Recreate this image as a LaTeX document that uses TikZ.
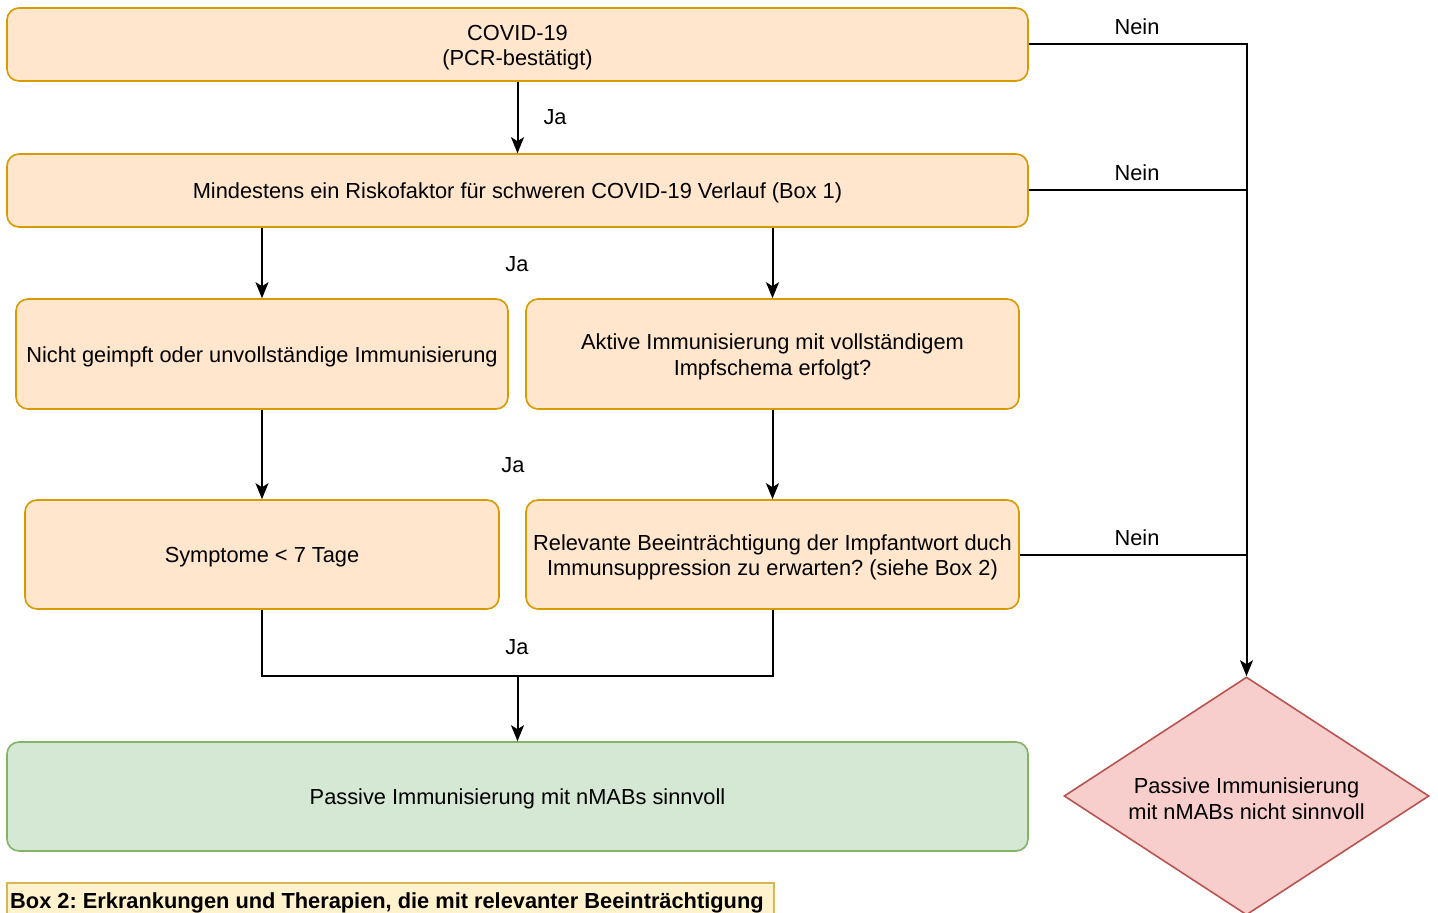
\documentclass[tikz,border=0pt]{standalone}
\usepackage{fontspec}
\setmainfont{Liberation Sans}
\usetikzlibrary{shapes.geometric,arrows.meta}
\frenchspacing
\definecolor{orfill}{HTML}{FFE6CC}
\definecolor{ordraw}{HTML}{D79B00}
\definecolor{grfill}{HTML}{D5E8D4}
\definecolor{grdraw}{HTML}{82B366}
\definecolor{rdfill}{HTML}{F8CECC}
\definecolor{rddraw}{HTML}{B85450}
\definecolor{ylfill}{HTML}{FFF2CC}
\definecolor{yldraw}{HTML}{D6B656}
\tikzset{
  fnt/.style={font=\fontsize{21.8}{25.5}\selectfont},
  box/.style={draw=ordraw, fill=orfill, line width=1.6pt, rounded corners=12pt, inner sep=0pt},
  gbox/.style={box, draw=grdraw, fill=grfill},
  txt/.style={fnt, align=center, inner sep=0pt},
  lbl/.style={fnt, inner sep=0pt},
  conn/.style={line width=2pt, -{Stealth[length=16pt,width=13pt,inset=4pt]}},
  plain/.style={line width=2pt},
}
\begin{document}
\begin{tikzpicture}[x=1pt,y=-1pt]
\useasboundingbox (0,0) rectangle (1438,913);
\clip (0,0) rectangle (1438,913);
% boxes
\node[box, minimum width=1021, minimum height=73] (covid) at (517.5,44.5) {};
\node[box, minimum width=1021, minimum height=73] (risk) at (517.5,190.5) {};
\node[box, minimum width=492, minimum height=110] (nicht) at (262,354) {};
\node[box, minimum width=493, minimum height=110] (aktiv) at (772.5,354) {};
\node[box, minimum width=474, minimum height=109] (sympt) at (262,554.5) {};
\node[box, minimum width=493, minimum height=109] (relev) at (772.5,554.5) {};
\node[gbox, minimum width=1021, minimum height=109] (pass) at (517.5,796.5) {};
\node[diamond, draw=rddraw, fill=rdfill, line width=1.6pt, minimum width=365, minimum height=238, inner sep=0pt] (nicht2) at (1246.5,796) {};
\node[draw=yldraw, fill=ylfill, line width=1.6pt, minimum width=767, minimum height=50, anchor=north west, inner sep=0pt] (box2) at (6,882) {};
% texts
\node[txt] (covidt) at ([yshift=-3pt]covid.center) {COVID-19\\(PCR-bestätigt)};
\node[txt] (riskt) at ([yshift=-2.5pt]risk.center) {Mindestens ein Riskofaktor für schweren COVID-19 Verlauf (Box 1)};
\node[txt] (nichtt) at ([yshift=-2.5pt]nicht.center) {Nicht geimpft oder unvollständige Immunisierung};
\node[txt] (aktivt) at ([yshift=-3pt]aktiv.center) {Aktive Immunisierung mit vollständigem\\Impfschema erfolgt?};
\node[txt] (symptt) at ([yshift=-2.5pt]sympt.center) {Symptome < 7 Tage};
\node[txt] (relevt) at ([yshift=-3pt]relev.center) {Relevante Beeinträchtigung der Impfantwort duch\\Immunsuppression zu erwarten? (siehe Box 2)};
\node[txt] (passt) at ([yshift=-2.5pt]pass.center) {Passive Immunisierung mit nMABs sinnvoll};
\node[txt] (nicht2t) at ([yshift=-2.5pt]nicht2.center) {Passive Immunisierung\\mit nMABs nicht sinnvoll};
\node[anchor=west, inner sep=0pt, font=\bfseries\fontsize{21.8}{25.5}\selectfont] (box2t) at (10,903) {Box 2: Erkrankungen und Therapien, die mit relevanter Beeinträchtigung};
% junction coordinates
\coordinate (rc) at (1246.5,44);
\coordinate (rj1) at (1246.5,190);
\coordinate (rj2) at (1246.5,554.5);
\coordinate (bl) at (262,676);
\coordinate (br) at (772.5,676);
\coordinate (bm) at (517.5,676);
% connectors
\draw[conn] (covid.south) -- (risk.north) node[lbl, pos=0.5, right=25pt] (ja1) {Ja};
\draw[conn] (covid.east |- rc) -- (rc) -- (nicht2.north);
\node[lbl] (nein1) at (1137,27) {Nein};
\draw[plain] (risk.east |- rj1) -- (rj1);
\node[lbl] (nein2) at (1137,173) {Nein};
\draw[plain] (relev.east |- rj2) -- (rj2);
\node[lbl] (nein3) at (1137,538) {Nein};
\draw[conn] (nicht.north |- risk.south) -- (nicht.north);
\draw[conn] (aktiv.north |- risk.south) -- (aktiv.north);
\node[lbl] (ja2) at (517,264) {Ja};
\draw[conn] (nicht.south) -- (sympt.north);
\draw[conn] (aktiv.south) -- (relev.north);
\node[lbl] (ja3) at (513,465) {Ja};
\draw[plain] (sympt.south) -- (bl) -- (br) -- (relev.south);
\draw[conn] (bm) -- (pass.north);
\node[lbl] (ja4) at (517,647) {Ja};
\end{tikzpicture}
\end{document}
